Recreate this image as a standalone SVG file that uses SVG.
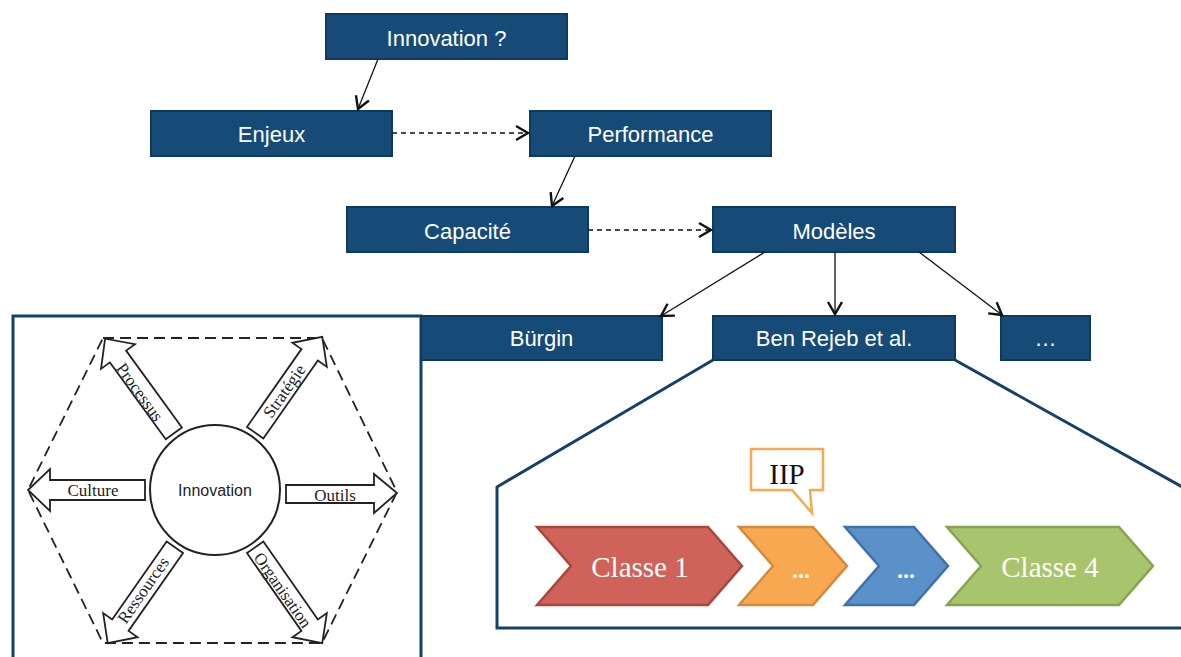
<svg xmlns="http://www.w3.org/2000/svg" width="1181" height="657" viewBox="0 0 1181 657">
<defs>
<style>
.box{fill:#174b77;stroke:#0f3a5f;stroke-width:2}
.bt{fill:#fff;font-family:"Liberation Sans",Arial,sans-serif;font-size:22px;text-anchor:middle}
.con{stroke:#111;stroke-width:1.3;fill:none}
.dash{stroke-dasharray:5 4}
.frame{fill:none;stroke:#15406a;stroke-width:3}
.blk{fill:#fff;stroke:#222;stroke-width:1.8;stroke-linejoin:miter}
.st{font-family:"Liberation Serif","Times New Roman",serif;font-size:17px;fill:#222;text-anchor:middle}
.cl{font-family:"Liberation Serif","Times New Roman",serif;fill:#fff;text-anchor:middle}
</style>
<marker id="ah" markerUnits="userSpaceOnUse" markerWidth="20" markerHeight="20" viewBox="-14 -10 16 20" refX="0" refY="0" orient="auto">
<path d="M-12,-7 L0,0 L-12,7" fill="none" stroke="#111" stroke-width="2.4" stroke-linejoin="miter"/>
</marker>
<path id="barrow" d="M0,-10 H95 V-21 L117,0 L95,21 V10 H0 Z"/>
</defs>

<g id="left-panel">
<path class="frame" d="M13,660 V316 H421 V660"/>
<polygon points="103,338 322,338 397,492 322,643 103,643 28,490" fill="none" stroke="#222" stroke-width="1.8" stroke-dasharray="11 6"/>
<circle cx="215" cy="490" r="65" fill="#fff" stroke="#222" stroke-width="2"/>
<text x="215" y="496" font-family="'Liberation Sans',Arial,sans-serif" font-size="16" fill="#222" text-anchor="middle">Innovation</text>
<use href="#barrow" class="blk" transform="translate(215,490) rotate(180) translate(70,0)"/>
<path class="blk" d="M286,485 H374 V474 L397,493 L374,513 V503 H286 Z"/>
<use href="#barrow" class="blk" transform="translate(215,490) rotate(-126) translate(70,0)"/>
<use href="#barrow" class="blk" transform="translate(215,490) rotate(-55) translate(70,0)"/>
<use href="#barrow" class="blk" transform="translate(215,490) rotate(55) translate(70,0)"/>
<use href="#barrow" class="blk" transform="translate(215,490) rotate(125) translate(70,0)"/>
<text class="st" transform="translate(93,490)" dy="0.35em">Culture</text>
<text class="st" transform="translate(335,495)" dy="0.35em">Outils</text>
<text class="st" transform="translate(140,392) rotate(54)" dy="0.35em">Processus</text>
<text class="st" transform="translate(284,391) rotate(-55)" dy="0.35em">Stratégie</text>
<text class="st" transform="translate(283,590) rotate(55)" dy="0.35em">Organisation</text>
<text class="st" transform="translate(143,590) rotate(-55)" dy="0.35em">Ressources</text>
</g>

<g id="zoom-frame">
<path class="frame" d="M713,360 L497,487 V628 H1184 M955,360 L1184,488"/>
</g>

<g id="n-innovation"><rect class="box" x="326" y="14" width="241" height="45"/><text class="bt" x="446.5" y="46">Innovation ?</text></g>
<g id="n-enjeux"><rect class="box" x="151" y="111" width="241" height="45"/><text class="bt" x="271.5" y="142">Enjeux</text></g>
<g id="n-performance"><rect class="box" x="530" y="111" width="241" height="45"/><text class="bt" x="650.5" y="142">Performance</text></g>
<g id="n-capacite"><rect class="box" x="347" y="207" width="241" height="45"/><text class="bt" x="467.5" y="239">Capacité</text></g>
<g id="n-modeles"><rect class="box" x="713" y="207" width="242" height="45"/><text class="bt" x="834" y="239">Modèles</text></g>
<g id="n-burgin"><rect class="box" x="421" y="316" width="241" height="44"/><text class="bt" x="541.5" y="346">Bürgin</text></g>
<g id="n-benrejeb"><rect class="box" x="713" y="316" width="242" height="44"/><text class="bt" x="834" y="346">Ben Rejeb et al.</text></g>
<g id="n-etc"><rect class="box" x="1001" y="316" width="89" height="44"/><text class="bt" x="1045.5" y="346">…</text></g>

<g id="connectors">
<line class="con" x1="378" y1="59" x2="358" y2="109" marker-end="url(#ah)"/>
<line class="con dash" x1="392" y1="133" x2="528" y2="133" marker-end="url(#ah)"/>
<line class="con" x1="575" y1="156" x2="552" y2="206" marker-end="url(#ah)"/>
<line class="con dash" x1="588" y1="230" x2="711" y2="230" marker-end="url(#ah)"/>
<line class="con" x1="765" y1="252" x2="661" y2="316" marker-end="url(#ah)"/>
<line class="con" x1="835" y1="252" x2="835" y2="314" marker-end="url(#ah)"/>
<line class="con" x1="919" y1="252" x2="1002" y2="315" marker-end="url(#ah)"/>
</g>

<g id="classes">
<g id="c1"><polygon points="537,527 708,527 742,566 708,605 537,605 571,566" fill="#cf6259" stroke="#a8463f" stroke-width="2.5"/><text class="cl" x="640" y="577" font-size="29">Classe 1</text></g>
<g id="c2"><polygon points="739,527 813,527 847,566 813,605 739,605 773,566" fill="#f7a850" stroke="#d38a3a" stroke-width="2.5"/><text class="cl" x="801" y="578" font-size="24" font-weight="bold">...</text></g>
<g id="c3"><polygon points="845,527 914,527 948,566 914,605 845,605 879,566" fill="#5b91c9" stroke="#3f71a8" stroke-width="2.5"/><text class="cl" x="906" y="578" font-size="24" font-weight="bold">...</text></g>
<g id="c4"><polygon points="947,527 1119,527 1153,566 1119,605 947,605 981,566" fill="#a8c46c" stroke="#87a34f" stroke-width="2.5"/><text class="cl" x="1050" y="577" font-size="29">Classe 4</text></g>
<g id="iip"><path d="M751,449 H823 V490 H810 L812,513 L792,490 H751 Z" fill="#fff" stroke="#f7a850" stroke-width="2.5" stroke-linejoin="miter"/><text x="787" y="484" font-family="'Liberation Serif','Times New Roman',serif" font-size="29" fill="#111" text-anchor="middle">IIP</text></g>
</g>
</svg>
